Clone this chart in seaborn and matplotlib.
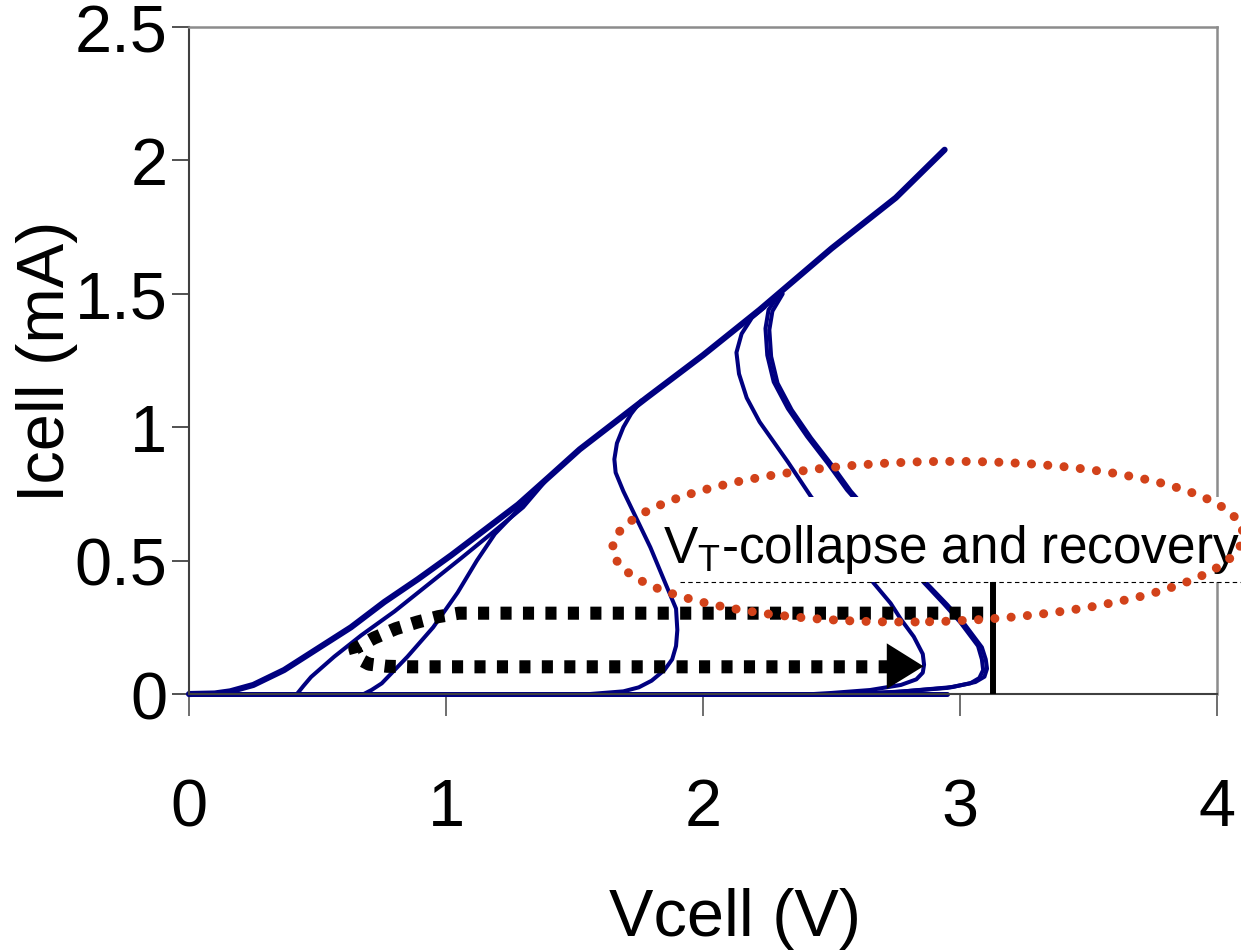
import numpy as np
import pandas as pd
import matplotlib
matplotlib.use("Agg")
import matplotlib.pyplot as plt
from matplotlib.patches import Ellipse, Rectangle, Polygon
import seaborn as sns

# I-V sweeps (Vcell in V, Icell in mA)
base_v = [0.0, 2.95]
base_i = [0.0, 0.0]

diag_v = [0.0, 0.10, 0.16, 0.25, 0.37, 0.50, 0.63, 0.76, 0.89, 1.02, 1.15, 1.28, 1.40, 1.52, 1.78, 2.00, 2.22, 2.50, 2.75, 2.94]
diag_i = [0.0, 0.002, 0.01, 0.034, 0.09, 0.17, 0.25, 0.345, 0.43, 0.52, 0.615, 0.71, 0.813, 0.917, 1.11, 1.27, 1.44, 1.67, 1.86, 2.04]

rec1_v = [0.42, 0.445, 0.475, 0.565, 0.67, 0.80, 0.93, 1.06, 1.20, 1.30, 1.40]
rec1_i = [0.0, 0.03, 0.064, 0.14, 0.22, 0.31, 0.41, 0.51, 0.62, 0.70, 0.813]

rec2_v = [0.68, 0.71, 0.75, 0.85, 0.95, 1.045, 1.12, 1.19, 1.28, 1.33, 1.40]
rec2_i = [0.0, 0.015, 0.04, 0.14, 0.25, 0.38, 0.50, 0.60, 0.69, 0.75, 0.813]

col1_v = [1.56, 1.69, 1.75, 1.80, 1.85, 1.88, 1.895, 1.90, 1.895, 1.86, 1.795, 1.73, 1.69, 1.66, 1.655, 1.665, 1.69, 1.72, 1.76]
col1_i = [0.0, 0.01, 0.025, 0.05, 0.09, 0.13, 0.18, 0.24, 0.32, 0.40, 0.55, 0.68, 0.76, 0.83, 0.88, 0.94, 1.00, 1.05, 1.10]

col2_v = [2.43, 2.50, 2.65, 2.77, 2.83, 2.855, 2.86, 2.855, 2.82, 2.77, 2.73, 2.663, 2.55, 2.42, 2.33, 2.22, 2.17, 2.14, 2.13, 2.15, 2.19, 2.24]
col2_i = [0.0, 0.004, 0.015, 0.034, 0.055, 0.08, 0.11, 0.15, 0.215, 0.28, 0.34, 0.417, 0.58, 0.74, 0.87, 1.02, 1.11, 1.20, 1.28, 1.35, 1.41, 1.45]

col3_v = [2.56, 2.756, 2.95, 3.04, 3.075, 3.09, 3.085, 3.07, 3.00, 2.935, 2.86, 2.72, 2.56, 2.485, 2.405, 2.33, 2.275, 2.25, 2.243, 2.255, 2.30]
col3_i = [0.0, 0.008, 0.023, 0.04, 0.06, 0.09, 0.13, 0.18, 0.27, 0.34, 0.417, 0.59, 0.765, 0.865, 0.965, 1.07, 1.17, 1.27, 1.37, 1.44, 1.505]

col4_v = [2.60, 2.78, 2.97, 3.06, 3.095, 3.105, 3.10, 3.085, 3.015, 2.95, 2.875, 2.735, 2.575, 2.50, 2.42, 2.345, 2.29, 2.265, 2.258, 2.27, 2.31]
col4_i = [0.0, 0.01, 0.026, 0.045, 0.065, 0.095, 0.13, 0.175, 0.265, 0.335, 0.41, 0.585, 0.76, 0.86, 0.96, 1.065, 1.165, 1.265, 1.365, 1.435, 1.50]

# dotted arrow (collapse -> recovery)
arrow_v = [3.09, 1.05, 0.97, 0.89, 0.805, 0.72, 0.645, 0.655, 0.70, 0.77, 0.86, 2.72]
arrow_i = [0.303, 0.303, 0.29, 0.27, 0.245, 0.21, 0.17, 0.135, 0.112, 0.104, 0.102, 0.102]

x_ticks = [0, 1, 2, 3, 4]
y_ticks = [0, 0.5, 1, 1.5, 2, 2.5]
y_tick_labels = ["0", "0.5", "1", "1.5", "2", "2.5"]

sns.set_theme(style="white")
plt.rcParams["font.family"] = ["Liberation Sans", "DejaVu Sans"]
plt.rcParams["mathtext.fontset"] = "custom"
plt.rcParams["mathtext.rm"] = "Liberation Sans"
plt.rcParams["text.color"] = "black"
plt.rcParams["axes.labelcolor"] = "black"
plt.rcParams["xtick.color"] = "black"
plt.rcParams["ytick.color"] = "black"

navy = "#000080"
fig = plt.figure(figsize=(12.41, 9.53), dpi=100)
ax = fig.add_axes([0.1523, 0.2707, 0.9807 - 0.1523, 0.9706 - 0.2707])

traces = [
    (base_v, base_i, 3.6),
    (diag_v, diag_i, 4.4),
    (rec1_v, rec1_i, 2.9),
    (rec2_v, rec2_i, 2.9),
    (col1_v, col1_i, 2.9),
    (col2_v, col2_i, 2.9),
    (col3_v, col3_i, 2.9),
    (col4_v, col4_i, 2.9),
]
for v, i, lw in traces:
    df = pd.DataFrame({"Vcell": v, "Icell": i})
    sns.lineplot(data=df, x="Vcell", y="Icell", sort=False, estimator=None,
                 color=navy, lw=lw, ax=ax, clip_on=False, zorder=2,
                 solid_capstyle="round", solid_joinstyle="round")

# white label box hiding the curves behind the annotation
ax.add_patch(Rectangle((1.90, 0.42), 2.4, 0.32, facecolor="white", edgecolor="none",
                       zorder=3, clip_on=False))
ax.plot([1.91, 4.1], [0.42, 0.42], color="black", lw=0.8, ls=(0, (4, 3)),
        zorder=4, clip_on=False)
ax.text(1.846, 0.495, r"V$_{\mathrm{T}}$-collapse and recovery", fontsize=37,
        color="black", ha="left", va="baseline", zorder=5, clip_on=False)

# threshold marker
ax.plot([3.13, 3.13], [0.0, 0.42], color="black", lw=4.3, zorder=4,
        solid_capstyle="butt", clip_on=False)

# dotted arrow
ax.plot(arrow_v, arrow_i, color="black", lw=9.4, ls=(0, (0.85, 0.87)),
        dash_capstyle="butt", zorder=4, clip_on=False)
ax.add_patch(Polygon([(2.715, 0.19), (2.858, 0.104), (2.715, 0.019)], closed=True,
                     facecolor="black", edgecolor="none", zorder=4, clip_on=False))

# red dotted ellipse
ax.add_patch(Ellipse((2.875, 0.571), width=2.453, height=0.60, angle=1.2,
                     facecolor="none", edgecolor="#d2421a", lw=6.5,
                     ls=(0, (0.01, 1.8)), capstyle="round", zorder=6, clip_on=False))

ax.set_xlim(0, 4)
ax.set_ylim(0, 2.5)
ax.set_xticks(x_ticks)
ax.set_xticklabels([str(t) for t in x_ticks])
ax.set_yticks(y_ticks)
ax.set_yticklabels(y_tick_labels)
ax.tick_params(axis="y", direction="out", length=12, width=1.2, color="#333333",
               pad=3.6, labelsize=48, labelcolor="black", left=True)
ax.tick_params(axis="x", direction="out", length=16, width=1.2, color="#555555",
               pad=44, labelsize=48, labelcolor="black", bottom=True)

ax.set_xlabel("Vcell (V)", fontsize=48, color="black")
ax.set_ylabel("Icell (mA)", fontsize=48, color="black")
ax.xaxis.set_label_coords(0.531, -0.289)
ax.yaxis.set_label_coords(-0.108, 0.5)

for side in ["left", "bottom"]:
    ax.spines[side].set_color("#404040")
    ax.spines[side].set_linewidth(1.5)
for side in ["top", "right"]:
    ax.spines[side].set_color("#8c8c8c")
    ax.spines[side].set_linewidth(1.8)

fig.savefig("out.png", dpi=100, facecolor="white")
